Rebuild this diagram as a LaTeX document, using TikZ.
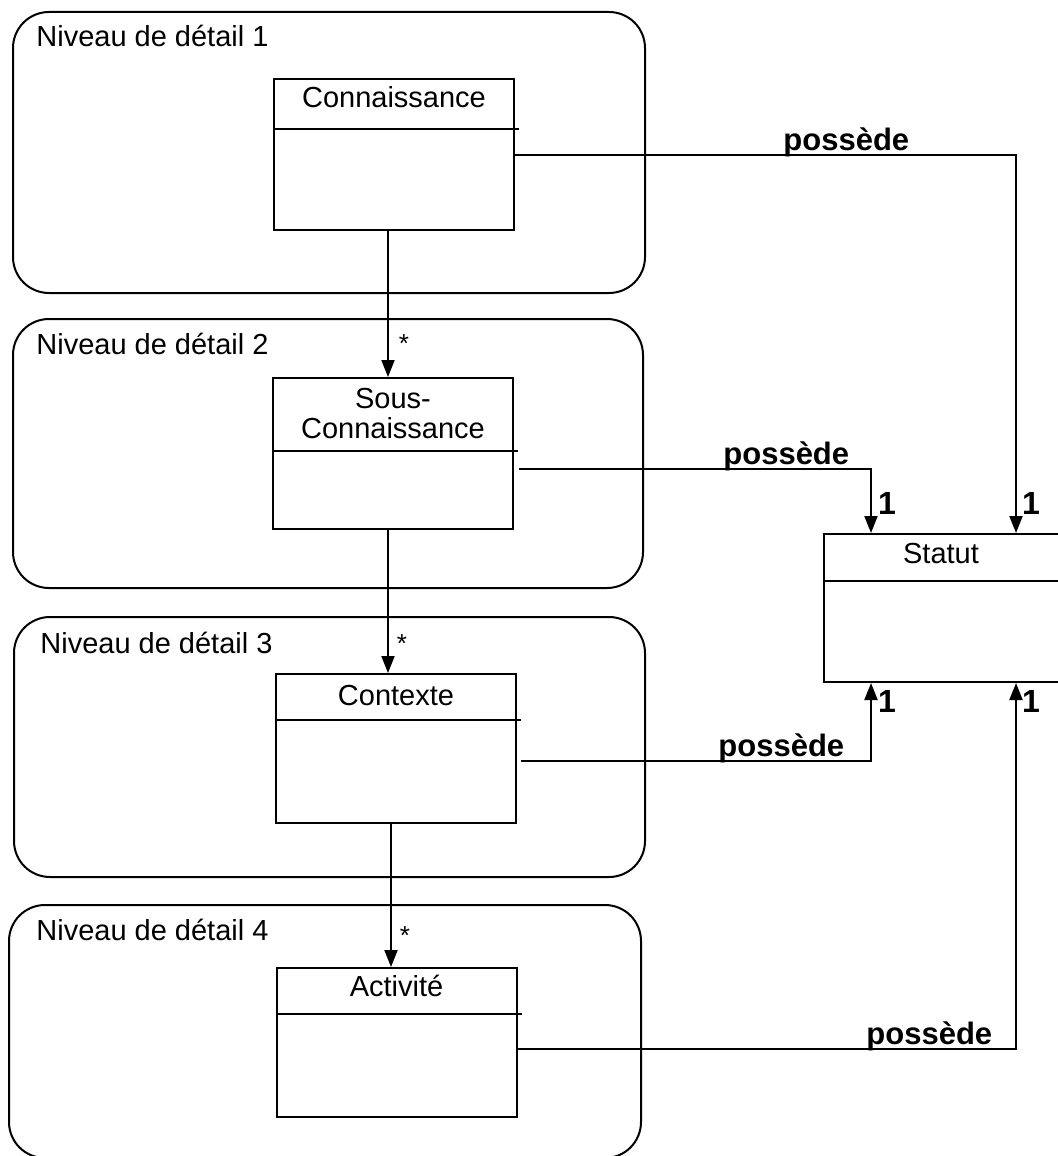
\documentclass[tikz,border=0pt]{standalone}
\usepackage{fontspec}
\setmainfont{Liberation Sans}
\usetikzlibrary{arrows.meta}
\begin{document}
\begin{tikzpicture}[x=0.5pt,y=-0.5pt,
  lw/.style={line width=1pt},
  level/.style={lw, rounded corners=18pt},
  levellabel/.style={anchor=base west, inner sep=0pt, font=\fontsize{14.5pt}{17pt}\selectfont},
  classbox/.style={lw, draw, rectangle, inner sep=0pt, minimum width=120pt},
  classname/.style={anchor=base, inner sep=0pt, align=center, font=\fontsize{14.5pt}{15pt}\selectfont},
  assoc/.style={lw, -{Triangle[length=8.5pt,width=6.5pt]}},
  role/.style={anchor=base west, inner sep=0pt, font=\fontsize{15.5pt}{18pt}\selectfont\bfseries},
  mult/.style={inner sep=0pt, font=\fontsize{16pt}{18pt}\selectfont\bfseries},
  many/.style={inner sep=0pt, font=\fontsize{13pt}{15pt}\selectfont}]
\useasboundingbox (0,0) rectangle (1058,1156);
\clip (0,0) rectangle (1058,1156);

% detail levels
\draw[level] (13,12) rectangle (645,293);
\draw[level] (13,319) rectangle (643,588);
\draw[level] (14,617) rectangle (645,877);
\draw[level] (9,905) rectangle (641,1158);
\node[levellabel] (l1) at (36,47) {Niveau de détail 1};
\node[levellabel] (l2) at (36,354) {Niveau de détail 2};
\node[levellabel] (l3) at (40,653) {Niveau de détail 3};
\node[levellabel] (l4) at (36,940) {Niveau de détail 4};

% classes
\node[classbox, minimum height=75.5pt] (cn) at (394,154.5) {};
\node[classname] (cnt) at (394,108) {Connaissance};
\draw[lw] ([yshift=-25.5pt]cn.north west) -- ([yshift=-25.5pt,xshift=2pt]cn.north east);

\node[classbox, minimum height=75.5pt] (sc) at (393,453.5) {};
\node[classname] (sct) at (393,438) {Sous-\\Connaissance};
\draw[lw] ([yshift=-37pt]sc.north west) -- ([yshift=-37pt,xshift=2pt]sc.north east);

\node[classbox, minimum height=74.5pt] (ct) at (396,748.5) {};
\node[classname] (ctt) at (396,705) {Contexte};
\draw[lw] ([yshift=-23.5pt]ct.north west) -- ([yshift=-23.5pt,xshift=2pt]ct.north east);

\node[classbox, minimum height=74.5pt] (ac) at (396.5,1042.5) {};
\node[classname] (act) at (396.5,996) {Activité};
\draw[lw] ([yshift=-23.5pt]ac.north west) -- ([yshift=-23.5pt,xshift=2pt]ac.north east);

\node[classbox, minimum width=118pt, minimum height=74pt] (st) at (942,608) {};
\node[classname] (stt) at (941,563) {Statut};
\draw[lw] ([yshift=-24pt]st.north west) -- ([yshift=-24pt]st.north east);

% composition between levels
\draw[assoc] ([xshift=-3pt]cn.south) -- ([xshift=-3pt]cn.south |- sc.north);
\draw[assoc] ([xshift=-2.5pt]sc.south) -- ([xshift=-2.5pt]sc.south |- ct.north);
\draw[assoc] ([xshift=-2.5pt]ct.south) -- ([xshift=-2.5pt]ct.south |- ac.north);
\node[many] (m1) at (404,344) {*};
\node[many] (m2) at (402,644) {*};
\node[many] (m3) at (405,936) {*};

% status associations
\draw[assoc] (cn.east) -| ([xshift=37pt]st.north);
\draw[assoc] ([xshift=2.5pt,yshift=-7.75pt]sc.east) -| ([xshift=-35.5pt]st.north);
\draw[assoc] ([xshift=2pt,yshift=-6.25pt]ct.east) -| ([xshift=-35.5pt]st.south);
\draw[assoc] ([yshift=-3.25pt]ac.east) -| ([xshift=37pt]st.south);

\node[role] (p1) at (783,150) {possède};
\node[role] (p2) at (723,464) {possède};
\node[role] (p3) at (718,756) {possède};
\node[role] (p4) at (866,1044) {possède};

\node[mult] (n1) at (887,503) {1};
\node[mult] (n2) at (1031,503) {1};
\node[mult] (n3) at (887,701) {1};
\node[mult] (n4) at (1031,701) {1};
\end{tikzpicture}
\end{document}
